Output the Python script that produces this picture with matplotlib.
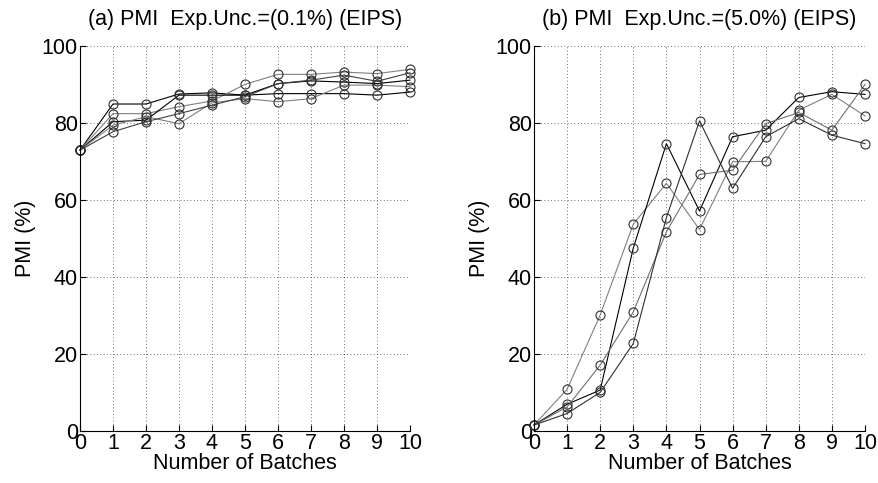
import numpy as np
import matplotlib
matplotlib.use("Agg")
import matplotlib.pyplot as plt

plt.rcParams['font.family'] = ['Liberation Sans', 'DejaVu Sans']

batches = np.arange(0, 11)
xtick_labels = [str(i) for i in range(11)]
ytick_vals = [0, 20, 40, 60, 80, 100]

# (a) Exp.Unc. = 0.1%
pmi_a1 = [72.9, 84.9, 84.9, 87.5, 87.8, 87.2, 87.6, 87.6, 87.6, 87.2, 88.0]
pmi_a2 = [72.9, 82.4, 82.4, 84.2, 85.7, 90.0, 92.6, 92.6, 93.2, 92.8, 93.9]
pmi_a3 = [72.9, 80.3, 80.7, 87.2, 87.2, 87.2, 90.2, 90.9, 90.6, 90.2, 91.1]
pmi_a4 = [72.9, 79.4, 81.6, 79.8, 85.2, 86.3, 85.5, 86.3, 89.8, 89.8, 89.4]
pmi_a5 = [72.9, 77.7, 80.3, 82.4, 84.6, 86.8, 90.2, 91.1, 92.4, 90.8, 93.0]

# (b) Exp.Unc. = 5.0%
pmi_b1 = [1.5, 10.8, 30.1, 53.7, 64.3, 52.3, 69.9, 70.0, 83.3, 87.4, 81.8]
pmi_b2 = [1.5, 6.9, 10.6, 47.5, 74.6, 57.1, 76.4, 78.1, 86.6, 88.1, 87.4]
pmi_b3 = [1.5, 6.2, 17.1, 30.9, 51.7, 66.6, 67.7, 79.8, 82.7, 78.1, 90.0]
pmi_b4 = [1.5, 4.5, 10.0, 22.7, 55.4, 80.5, 63.0, 76.4, 81.1, 76.8, 74.6]

series_a = [pmi_a1, pmi_a2, pmi_a3, pmi_a4, pmi_a5]
series_b = [pmi_b1, pmi_b2, pmi_b3, pmi_b4]
colors_a = ['black', '#808080', 'black', '#808080', '#404040']
colors_b = ['#808080', 'black', '#707070', '#303030']

fig = plt.figure(figsize=(8.79, 4.83), dpi=100)
ax1 = fig.add_axes([0.091, 0.108, 0.3754, 0.797])
ax2 = fig.add_axes([0.6075, 0.108, 0.3766, 0.797])


def style(ax, title):
    ax.set_xlim(0, 10)
    ax.set_ylim(0, 100)
    ax.set_xticks(batches)
    ax.set_xticklabels(xtick_labels)
    ax.set_yticks(ytick_vals)
    ax.grid(True, linestyle=(0, (1, 3)), color='#404040', linewidth=0.6)
    ax.spines['top'].set_visible(False)
    ax.spines['right'].set_visible(False)
    ax.tick_params(direction='in', length=4, labelsize=15.5, pad=1.5)
    ax.set_xlabel('Number of Batches', fontsize=15.5, labelpad=-1)
    ax.set_ylabel('PMI (%)', fontsize=15.5, labelpad=4)
    ax.set_title(title, fontsize=15.5, pad=15)


for ys, c in zip(series_a, colors_a):
    ax1.plot(batches, ys, '-o', color=c, lw=0.8, mfc='none', mec='#303030',
             ms=6.5, mew=0.8, clip_on=False)
for ys, c in zip(series_b, colors_b):
    ax2.plot(batches, ys, '-o', color=c, lw=0.8, mfc='none', mec='#303030',
             ms=6.5, mew=0.8, clip_on=False)

style(ax1, '(a) PMI  Exp.Unc.=(0.1%) (EIPS)')
style(ax2, '(b) PMI  Exp.Unc.=(5.0%) (EIPS)')

fig.savefig('out.png', dpi=100)
